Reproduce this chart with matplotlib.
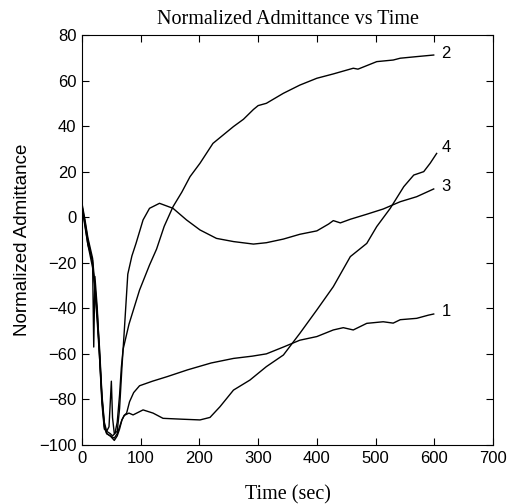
import numpy as np
import matplotlib.pyplot as plt

"""
(1) data read off the picture
"""

# curve 1: slow recovery, ends near -42
t1 = [0, 5, 10, 18, 22, 26, 30, 34, 38, 42, 48, 55, 60, 64, 68, 72, 76, 81, 88, 98,
      120, 145, 180, 220, 258, 290, 314, 343, 371, 400, 428, 445, 462, 485, 513, 530, 542, 570, 590, 599]
y1 = [5, -2, -10, -20, -32, -46, -62, -80, -92, -95, -96, -97, -95, -92, -89, -87, -86, -81, -77, -74,
      -72, -70, -67, -64, -62, -61, -60, -57, -54, -52.4, -49.5, -48.5, -49.5, -46.6, -45.9, -46.5, -45, -44.4, -43, -42.5]

# curve 2: rises to about 72
t2 = [0, 5, 10, 18, 22, 26, 30, 34, 38, 42, 48, 52, 56, 60, 64, 67, 70, 80, 98, 115, 127,
      140, 155, 170, 184, 201, 223, 240, 258, 275, 292, 300, 314, 343, 371, 400, 428, 462, 470, 502, 530, 542, 570, 599]
y2 = [4, -3, -12, -22, -30, -42, -58, -78, -90, -94, -95, -96, -95, -90, -78, -66, -58, -47, -32, -21, -14,
      -4, 4.6, 11, 17.8, 23.7, 32.4, 36, 39.8, 43, 47.3, 49, 50, 54.4, 58, 61, 62.9, 65.4, 65, 68.3, 69, 69.8, 70.5, 71.2]

# curve 3: hump near 135, dip near 300, ends near 12
t3 = [0, 5, 10, 18, 20, 22, 26, 30, 34, 38, 42, 46, 50, 52, 55, 60, 64, 68, 72, 78, 85, 92, 104, 115,
      132, 155, 178, 201, 229, 258, 292, 314, 343, 371, 400, 420, 428, 440, 457, 485, 513, 542, 570, 599]
y3 = [5, -4, -12, -19, -57, -26, -40, -62, -82, -93, -94, -92, -72, -88, -95, -94, -84, -66, -50, -25, -17, -11.5, -1.2, 3.9,
      6.1, 3.9, -1.2, -5.6, -9.3, -10.7, -11.8, -11.2, -9.6, -7.5, -6, -3, -1.5, -2.5, -0.9, 1.3, 3.6, 6.8, 9, 12.4]

# curve 4: flat near -88, then climbs to about 28
t4 = [0, 5, 10, 18, 22, 26, 30, 34, 38, 42, 48, 55, 60, 64, 68, 72, 80, 87, 104, 121,
      138, 172, 201, 218, 235, 258, 286, 314, 343, 371, 400, 428, 457, 485, 502, 525, 548, 565, 582, 593, 604]
y4 = [6, -1, -9, -18, -30, -44, -60, -79, -91, -95, -96, -98, -96, -93, -89, -87, -86, -86.8, -84.6, -86,
      -88.3, -88.7, -89, -87.9, -83.2, -75.9, -71.5, -65.6, -60.5, -51, -40.7, -30.5, -17.3, -11.5, -4.1, 3.9, 13.4, 18.5, 20, 23.7, 28]

curves = [(t1, y1), (t2, y2), (t3, y3), (t4, y4)]
names = ['1', '2', '3', '4']
label_y = [-41.6, 72, 13.3, 30.4]

"""
(2) plot
"""

fig = plt.figure(figsize=(5.17, 5.04), dpi=100)
ax = fig.add_axes([0.1586, 0.1171, 0.795, 0.8135])

for (t, y), name, ly in zip(curves, names, label_y):
    ax.plot(t, y, color='black', linewidth=1.0)
    ax.text(612, ly, name, fontsize=12, family='Liberation Sans', va='center', ha='left')

ax.set_xlim(0, 700)
ax.set_ylim(-100, 80)
ax.set_xticks(np.arange(0, 701, 100))
ax.set_yticks(np.arange(-100, 81, 20))
ax.tick_params(direction='in', top=True, right=True, length=5, labelsize=12, pad=4)
for lab in ax.get_xticklabels() + ax.get_yticklabels():
    lab.set_family('Liberation Sans')

ax.set_title('Normalized Admittance vs Time', family='Liberation Serif', fontsize=14.5, pad=8)
ax.set_xlabel('Time (sec)', family='Liberation Serif', fontsize=14.5, labelpad=14)
ax.set_ylabel('Normalized Admittance', family='Liberation Sans', fontsize=13.5, labelpad=6)

fig.savefig('out.png', dpi=100)
